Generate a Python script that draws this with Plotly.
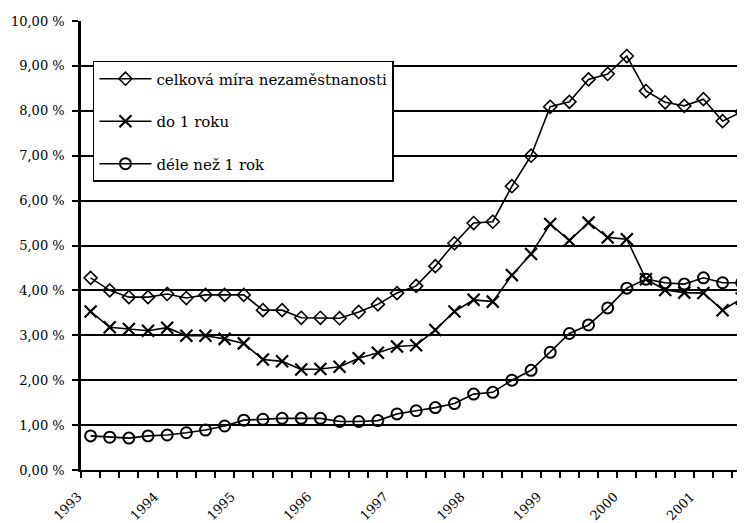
import plotly.graph_objects as go

quarters = [f"{y}Q{q}" for y in range(1993, 2002) for q in range(1, 5)][:35]

celkova = [4.28, 4.00, 3.85, 3.85, 3.92, 3.83, 3.90, 3.90, 3.90,
           3.56, 3.56, 3.39, 3.39, 3.38, 3.52, 3.69, 3.94, 4.10, 4.54, 5.05, 5.50, 5.53,
           6.32, 7.00, 8.09, 8.20, 8.70, 8.82, 9.22, 8.44, 8.19, 8.11, 8.26, 7.77, 7.98]
do1 = [3.53, 3.18, 3.14, 3.10, 3.17, 2.99, 2.99, 2.92, 2.82,
       2.46, 2.42, 2.24, 2.25, 2.30, 2.49, 2.61, 2.75, 2.78, 3.12, 3.53, 3.79, 3.75,
       4.34, 4.81, 5.48, 5.11, 5.51, 5.18, 5.14, 4.25, 4.01, 3.95, 3.94, 3.56, 3.82]
dele1 = [0.76, 0.73, 0.71, 0.76, 0.78, 0.83, 0.89, 0.98, 1.11,
         1.13, 1.15, 1.15, 1.15, 1.08, 1.08, 1.10, 1.25, 1.32, 1.39, 1.48, 1.69, 1.73,
         2.00, 2.22, 2.62, 3.04, 3.23, 3.61, 4.05, 4.25, 4.17, 4.14, 4.28, 4.17, 4.17]

years = ["1993", "1994", "1995", "1996", "1997", "1998", "1999", "2000", "2001"]
y_ticks = [0, 1, 2, 3, 4, 5, 6, 7, 8, 9, 10]
y_labels = ["0,00 %", "1,00 %", "2,00 %", "3,00 %", "4,00 %", "5,00 %",
            "6,00 %", "7,00 %", "8,00 %", "9,00 %", "10,00 %"]

x = list(range(len(quarters)))
year_pos = [quarters.index(f"{y}Q1") - 0.5 for y in years]

FONT = "DejaVu Serif"

fig = go.Figure()
series = [
    ("celková míra nezaměstnanosti", celkova, "diamond-open", 10, 1.6),
    ("do 1 roku", do1, "x-thin-open", 12, 2.2),
    ("déle než 1 rok", dele1, "circle-open", 11, 2.0),
]
for i, (name, vals, sym, size, lw) in enumerate(series):
    fig.add_trace(go.Scatter(
        x=x, y=vals, name=name, mode="lines+markers",
        line=dict(color="black", width=1.6),
        marker=dict(symbol=sym, size=size, color="black",
                    line=dict(color="black", width=lw)),
        legendgroup=f"g{i}",
    ))

fig.update_layout(
    width=745, height=523,
    margin=dict(l=73, r=8, t=13, b=61, autoexpand=False),
    paper_bgcolor="white", plot_bgcolor="white",
    font=dict(family=FONT, size=13, color="black"),
    showlegend=True,
    legend=dict(
        x=0.018, y=0.911, xanchor="left", yanchor="top",
        bgcolor="white", bordercolor="black", borderwidth=1.5,
        font=dict(family=FONT, size=15, color="black"),
        tracegroupgap=20, traceorder="grouped", itemwidth=52,
    ),
    xaxis=dict(
        range=[-0.5, 34.17], automargin=False,
        tickmode="array", tickvals=year_pos, ticktext=years,
        tickangle=-45, ticks="outside", ticklen=6, tickwidth=2, tickcolor="black",
        showgrid=False, zeroline=False,
        showline=True, linecolor="black", linewidth=2,
        tickfont=dict(family=FONT, size=13),
        ticklabelstandoff=6, ticklabelshift=-3,
        minor=dict(ticks="outside", ticklen=6, tickwidth=2, tickcolor="black",
                   tick0=-0.5, dtick=1, showgrid=False),
    ),
    yaxis=dict(
        range=[0, 10], automargin=False,
        tickmode="array", tickvals=y_ticks, ticktext=y_labels,
        ticks="outside", ticklen=6, tickwidth=2, tickcolor="black",
        showgrid=True, gridcolor="black", gridwidth=2,
        zeroline=False,
        showline=True, linecolor="black", linewidth=2.5,
        tickfont=dict(family=FONT, size=13),
        ticklabelstandoff=5,
    ),
)

fig.write_html("out.html")
